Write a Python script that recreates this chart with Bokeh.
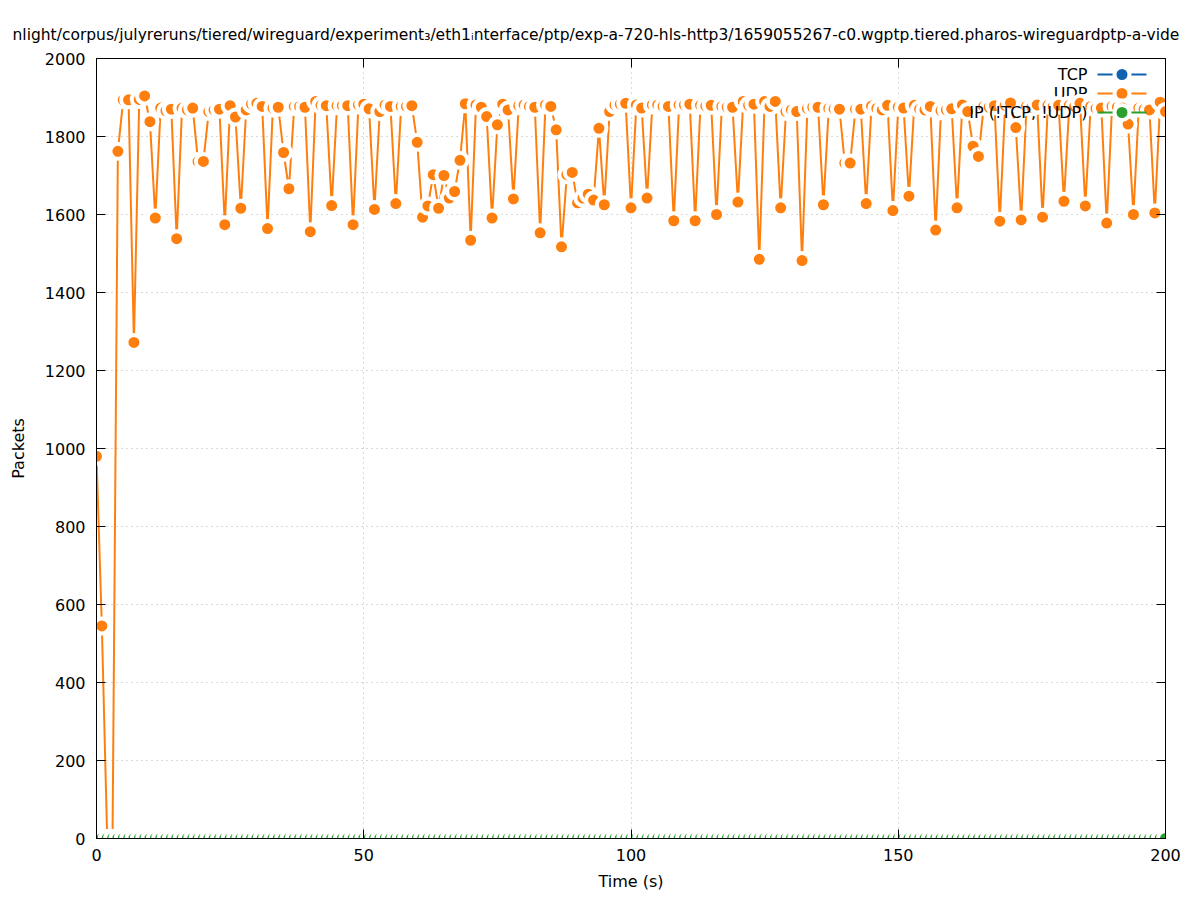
from bokeh.plotting import figure
from bokeh.models import Range1d, LinearAxis, SingleIntervalTicker, CustomLabelingPolicy
from bokeh.core.properties import value
from bokeh.embed import file_html
from bokeh.resources import INLINE

TITLE = ("nlight/corpus/julyreruns/tiered/wireguard/experiment\u2083/eth1\u1d62nterface/ptp/"
         "exp-a-720-hls-http3/1659055267-c0.wgptp.tiered.pharos-wireguardptp-a-vide")

series_names = ["TCP", "UDP", "IP (!TCP, !UDP)"]
series_colors = ["#0e62b0", "#ff7f0e", "#2ca02c"]

time_s = list(range(0, 201))

udp_packets = [
    980, 545, 0, 0, 1762, 1894, 1894, 1272, 1895, 1904,
    1838, 1591, 1873, 1866, 1870, 1538, 1873, 1868, 1873, 1736,
    1736, 1864, 1868, 1870, 1574, 1879, 1850, 1616, 1868, 1883,
    1885, 1877, 1564, 1873, 1875, 1759, 1666, 1877, 1877, 1875,
    1556, 1890, 1880, 1879, 1623, 1879, 1879, 1879, 1574, 1881,
    1883, 1871, 1613, 1864, 1881, 1877, 1628, 1877, 1877, 1879,
    1785, 1593, 1622, 1702, 1616, 1700, 1642, 1659, 1739, 1884,
    1534, 1881, 1875, 1851, 1591, 1830, 1883, 1868, 1640, 1879,
    1881, 1877, 1875, 1553, 1881, 1877, 1817, 1517, 1702, 1708,
    1630, 1642, 1652, 1637, 1821, 1625, 1864, 1881, 1883, 1885,
    1617, 1881, 1873, 1642, 1881, 1881, 1877, 1877, 1584, 1881,
    1881, 1883, 1584, 1880, 1878, 1880, 1600, 1877, 1875, 1875,
    1632, 1890, 1880, 1883, 1485, 1890, 1877, 1890, 1617, 1864,
    1868, 1864, 1482, 1872, 1875, 1875, 1625, 1872, 1870, 1870,
    1732, 1732, 1870, 1870, 1628, 1878, 1872, 1868, 1880, 1610,
    1875, 1873, 1647, 1880, 1870, 1868, 1877, 1560, 1866, 1868,
    1871, 1617, 1881, 1864, 1775, 1749, 1877, 1875, 1879, 1583,
    1880, 1886, 1823, 1586, 1877, 1875, 1881, 1593, 1880, 1877,
    1880, 1634, 1880, 1877, 1885, 1622, 1877, 1872, 1873, 1578,
    1877, 1875, 1873, 1832, 1600, 1873, 1870, 1868, 1604, 1888,
    1864,
]

tcp_packets = [
    0, 0, 0, 0, 0, 0, 0, 0, 0, 0, 0, 0, 0, 0, 0, 0, 0, 0, 0, 0,
    0, 0, 0, 0, 0, 0, 0, 0, 0, 0, 0, 0, 0, 0, 0, 0, 0, 0, 0, 0,
    0, 0, 0, 0, 0, 0, 0, 0, 0, 0, 0, 0, 0, 0, 0, 0, 0, 0, 0, 0,
    0, 0, 0, 0, 0, 0, 0, 0, 0, 0, 0, 0, 0, 0, 0, 0, 0, 0, 0, 0,
    0, 0, 0, 0, 0, 0, 0, 0, 0, 0, 0, 0, 0, 0, 0, 0, 0, 0, 0, 0,
    0, 0, 0, 0, 0, 0, 0, 0, 0, 0, 0, 0, 0, 0, 0, 0, 0, 0, 0, 0,
    0, 0, 0, 0, 0, 0, 0, 0, 0, 0, 0, 0, 0, 0, 0, 0, 0, 0, 0, 0,
    0, 0, 0, 0, 0, 0, 0, 0, 0, 0, 0, 0, 0, 0, 0, 0, 0, 0, 0, 0,
    0, 0, 0, 0, 0, 0, 0, 0, 0, 0, 0, 0, 0, 0, 0, 0, 0, 0, 0, 0,
    0, 0, 0, 0, 0, 0, 0, 0, 0, 0, 0, 0, 0, 0, 0, 0, 0, 0, 0, 0,
    0,
]

ip_other_packets = [
    0, 0, 0, 0, 0, 0, 0, 0, 0, 0, 0, 0, 0, 0, 0, 0, 0, 0, 0, 0,
    0, 0, 0, 0, 0, 0, 0, 0, 0, 0, 0, 0, 0, 0, 0, 0, 0, 0, 0, 0,
    0, 0, 0, 0, 0, 0, 0, 0, 0, 0, 0, 0, 0, 0, 0, 0, 0, 0, 0, 0,
    0, 0, 0, 0, 0, 0, 0, 0, 0, 0, 0, 0, 0, 0, 0, 0, 0, 0, 0, 0,
    0, 0, 0, 0, 0, 0, 0, 0, 0, 0, 0, 0, 0, 0, 0, 0, 0, 0, 0, 0,
    0, 0, 0, 0, 0, 0, 0, 0, 0, 0, 0, 0, 0, 0, 0, 0, 0, 0, 0, 0,
    0, 0, 0, 0, 0, 0, 0, 0, 0, 0, 0, 0, 0, 0, 0, 0, 0, 0, 0, 0,
    0, 0, 0, 0, 0, 0, 0, 0, 0, 0, 0, 0, 0, 0, 0, 0, 0, 0, 0, 0,
    0, 0, 0, 0, 0, 0, 0, 0, 0, 0, 0, 0, 0, 0, 0, 0, 0, 0, 0, 0,
    0, 0, 0, 0, 0, 0, 0, 0, 0, 0, 0, 0, 0, 0, 0, 0, 0, 0, 0, 0,
    0,
]

x_ticks_interval = 50
y_ticks_interval = 200

FONT = "DejaVu Sans"
FS = "16px"

p = figure(width=1197, height=900, output_backend="svg", toolbar_location=None,
           x_range=Range1d(0, 200), y_range=Range1d(0, 2000),
           min_border_left=96, min_border_right=32, min_border_top=58,
           min_border_bottom=62, background_fill_color="white",
           border_fill_color="white")

p.title.text = TITLE
p.title.align = "left"
p.title.offset = -84
p.title.text_font = FONT
p.title.text_font_size = "15.5px"
p.title.text_font_style = "normal"
p.title.text_color = "black"
p.title.standoff = 21

p.outline_line_color = "black"
p.outline_line_width = 1
p.outline_line_alpha = 1

xt = SingleIntervalTicker(interval=x_ticks_interval)
yt = SingleIntervalTicker(interval=y_ticks_interval)


def style_axis(ax):
    ax.axis_line_color = "black"
    ax.major_tick_line_color = "black"
    ax.major_tick_in = 9
    ax.major_tick_out = 0
    ax.minor_tick_in = 0
    ax.minor_tick_out = 0
    ax.major_label_text_font = FONT
    ax.major_label_text_font_size = FS
    ax.major_label_text_color = "black"
    ax.axis_label_text_font = FONT
    ax.axis_label_text_font_size = FS
    ax.axis_label_text_font_style = "normal"
    ax.axis_label_text_color = "black"


p.xaxis.ticker = xt
p.yaxis.ticker = yt
style_axis(p.xaxis[0])
style_axis(p.yaxis[0])
p.xaxis.axis_label = "Time (s)"
p.yaxis.axis_label = "Packets"
p.xaxis.major_label_standoff = 10
p.xaxis.axis_label_standoff = 8
p.yaxis.major_label_standoff = 11
p.yaxis.axis_label_standoff = 14

# mirrored tick marks on the top and right borders, without labels
hide_all = CustomLabelingPolicy(code="for (const i of indices) indices.unset(i)")
top_ax = LinearAxis(ticker=xt)
style_axis(top_ax)
top_ax.major_label_policy = hide_all
top_ax.major_label_text_font_size = "1px"
top_ax.major_label_standoff = 0
right_ax = LinearAxis(ticker=yt)
style_axis(right_ax)
right_ax.major_label_policy = hide_all
right_ax.major_label_text_font_size = "1px"
right_ax.major_label_standoff = 0
p.add_layout(top_ax, "above")
p.add_layout(right_ax, "right")

for g, t in ((p.xgrid, xt), (p.ygrid, yt)):
    g.ticker = t
    g.grid_line_color = "#b4b4b4"
    g.grid_line_dash = "1 4"
    g.grid_line_width = 1

# key: label on the left, sample on the right; each entry is drawn just before
# its own series, as in the reference
p.extra_x_ranges = {"lx": Range1d(0, 1069)}
p.extra_y_ranges = {"ly": Range1d(0, 780)}
leg_y = [764, 745, 726]

for name, yy, ys, c in zip(series_names, leg_y,
                           (tcp_packets, udp_packets, ip_other_packets),
                           series_colors):
    p.text(x=[991], y=[yy], text=[name], x_range_name="lx", y_range_name="ly",
           text_align="right", text_baseline="middle",
           text_font=value(FONT), text_font_size=FS, text_color="black")
    p.line([1001, 1050], [yy, yy], line_color=c, line_width=2,
           x_range_name="lx", y_range_name="ly")
    p.scatter([1025.5], [yy], size=15, fill_color=c, line_color="white",
              line_width=4, x_range_name="lx", y_range_name="ly")
    p.line(time_s, ys, line_color=c, line_width=2)
    p.scatter(time_s, ys, size=15, fill_color=c, line_color="white", line_width=4)

open("out.html", "w").write(file_html(p, INLINE))
